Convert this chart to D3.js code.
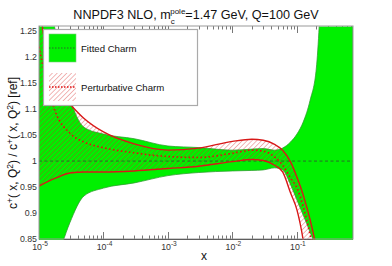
<!DOCTYPE html>
<meta charset="utf-8">
<style>
  html, body { margin: 0; padding: 0; background: #fff; overflow: hidden; }
  #chart { position: absolute; left: 0; top: 0; width: 392px; height: 266px; }
  svg { display: block; }
  text { font-family: "Liberation Sans", Arial, Helvetica, sans-serif; }
</style>
<script src="https://d3js.org/d3.v7.min.js"></script>
<div id="chart"></div>
<script>

// x grid (log)
var xVals  = [1e-5, 1.8e-5, 3e-5, 5e-5, 1e-4, 3e-4, 1e-3, 3e-3, 1e-2, 2e-2, 3e-2, 4.5e-2, 6e-2, 8e-2, 0.1, 0.125, 0.16, 0.2, 0.3, 0.74]

// fitted charm band (green)
var fitUp  = [1.40, 1.25, 1.123, 1.065, 1.052, 1.043, 1.029, 1.026, 1.021, 1.023, 1.024, 1.021, 1.025, 1.037, 1.052, 1.075, 1.117, 1.179, 1.6, 2.0]
var fitLo  = [0.70, 0.80, 0.881, 0.933, 0.948, 0.958, 0.972, 0.978, 0.981, 0.982, 0.983, 0.987, 0.983, 0.954, 0.925, 0.896, 0.863, 0.829, 0.70, 0.50]

// perturbative charm band (red hatched)
var pertUp = [1.30, 1.14, 1.11, 1.082, 1.056, 1.033, 1.021, 1.025, 1.038, 1.042, 1.040, 1.032, 1.021, 0.998, 0.969, 0.935, 0.887, 0.829, 0.6, 0.5]
var pertC  = [1.22, 1.094, 1.054, 1.0365, 1.0256, 1.016, 1.0087, 1.007, 1.015, 1.021, 1.019, 1.008, 0.992, 0.967, 0.948, 0.912, 0.858, 0.80, 0.6, 0.5]
var pertLo = [0.952, 0.967, 0.977, 0.979, 0.979, 0.981, 0.9856, 0.990, 0.999, 1.003, 1.001, 0.992, 0.979, 0.938, 0.906, 0.848, 0.75, 0.7, 0.55, 0.45]

var yTicks = [0.85, 0.9, 0.95, 1, 1.05, 1.1, 1.15, 1.2, 1.25]
var xDecades = [-5, -4, -3, -2, -1]
var legendNames = ["Fitted Charm", "Perturbative Charm"]

var w = 392, h = 266
var margin = {top: 26, right: 39, bottom: 27, left: 39},
    innerWidth = w - margin.left - margin.right,
    innerHeight = h - margin.top - margin.bottom

var svg = d3.select("#chart").append("svg")
  .attr("width", w).attr("height", h)

var defs = svg.append("defs")
defs.append("clipPath").attr("id", "clip")
  .append("rect").attr("x", 0).attr("y", 0.5)
  .attr("width", innerWidth).attr("height", innerHeight + 0.5)

var pat = defs.append("pattern").attr("id", "hatch")
  .attr("patternUnits", "userSpaceOnUse")
  .attr("width", 3.4).attr("height", 3.4)
  .attr("patternTransform", "rotate(45)")
pat.append("line").attr("x1", 0).attr("y1", 0).attr("x2", 0).attr("y2", 3.4)
  .attr("stroke", "#d42020").attr("stroke-width", 1.3).attr("stroke-opacity", 0.5)

var xScale = d3.scaleLog().domain([1e-5, 0.74]).range([0, innerWidth])
var yScale = d3.scaleLinear().domain([0.85, 1.26]).range([innerHeight, 0])

// runs of text with raised / lowered pieces, each one its own <text>
// runs: [string, fontSize, baselineShift, (optional) step back]
function richText(parent, x0, y0, runs, anchor, color) {
  var items = []
  var x = 0
  runs.forEach(function(r) {
    var t = parent.append("text").attr("y", y0 + r[2])
      .attr("font-size", r[1] + "px").attr("fill", color || "#111").text(r[0])
    var start = r[3] !== undefined ? x - r[3] : x
    var wd = t.node().getComputedTextLength()
    items.push([t, start])
    x = Math.max(x, start + wd)
  })
  var shift = anchor == "middle" ? -x / 2 : (anchor == "end" ? -x : 0)
  items.forEach(function(it) { it[0].attr("x", x0 + it[1] + shift) })
}

var g = svg.append("g").attr("transform", `translate(${margin.left},${margin.top})`)

// ticks (drawn under the bands)
var minor = []
xDecades.forEach(function(e) {
  for (var k = 1; k <= 9; k++) {
    var v = k * Math.pow(10, e)
    if (v <= 0.74) minor.push({v: v, major: k == 1})
  }
})
var ticks = g.append("g").attr("stroke", "#777").attr("stroke-width", 1)
ticks.selectAll(".tb").data(minor).enter().append("line")
  .attr("x1", d => Math.round(xScale(d.v)) + 0.5).attr("x2", d => Math.round(xScale(d.v)) + 0.5)
  .attr("y1", innerHeight).attr("y2", d => innerHeight - (d.major ? 7 : 3.5))
ticks.selectAll(".tt").data(minor).enter().append("line")
  .attr("x1", d => Math.round(xScale(d.v)) + 0.5).attr("x2", d => Math.round(xScale(d.v)) + 0.5)
  .attr("y1", 0).attr("y2", d => d.major ? 7 : 3.5)
ticks.selectAll(".tl").data(yTicks).enter().append("line")
  .attr("x1", 0).attr("x2", 7)
  .attr("y1", d => yScale(d)).attr("y2", d => yScale(d))

g.append("line").attr("x1", 0).attr("x2", innerWidth)
  .attr("y1", innerHeight + 0.5).attr("y2", innerHeight + 0.5)
  .attr("stroke", "#222").attr("stroke-width", 1.2)

// bands
var idx = d3.range(xVals.length)
var plot = g.append("g").attr("clip-path", "url(#clip)")

var area = function(lo, hi) {
  return d3.area().curve(d3.curveMonotoneX)
    .x(i => xScale(xVals[i])).y0(i => yScale(lo[i])).y1(i => yScale(hi[i]))(idx)
}
var line = function(arr) {
  return d3.line().curve(d3.curveMonotoneX)
    .x(i => xScale(xVals[i])).y(i => yScale(arr[i]))(idx)
}

plot.append("path").attr("d", area(fitLo, fitUp))
  .attr("fill", "#00f000").attr("stroke", "#30a030").attr("stroke-width", 0.8)

plot.append("path").attr("d", area(pertLo, pertUp)).attr("fill", "url(#hatch)")

plot.append("line").attr("x1", 0).attr("x2", innerWidth)
  .attr("y1", yScale(1)).attr("y2", yScale(1))
  .attr("stroke", "#2f5a2f").attr("stroke-width", 0.9).attr("stroke-dasharray", "3,2.5")

;[pertUp, pertLo].forEach(function(arr) {
  plot.append("path").attr("d", line(arr))
    .attr("fill", "none").attr("stroke", "#d81818").attr("stroke-width", 1.4)
})
plot.append("path").attr("d", line(pertC))
  .attr("fill", "none").attr("stroke", "#e01010").attr("stroke-width", 1.6)
  .attr("stroke-dasharray", "1.6,2.4")

// frame
g.append("rect").attr("x", 0).attr("y", 0).attr("width", innerWidth).attr("height", innerHeight)
  .attr("fill", "none").attr("stroke", "#999").attr("stroke-width", 1)

// legend
var lg = svg.append("g").attr("transform", "translate(43,29)")
lg.append("rect").attr("x", 0.5).attr("y", 0.5).attr("width", 154).attr("height", 76)
  .attr("fill", "#fff").attr("stroke", "#aaa").attr("stroke-width", 1.2)
lg.append("rect").attr("x", 6).attr("y", 5).attr("width", 27).attr("height", 28)
  .attr("fill", "#00f000").attr("stroke", "#7c7").attr("stroke-width", 0.6)
lg.append("line").attr("x1", 6).attr("x2", 33).attr("y1", 19).attr("y2", 19)
  .attr("stroke", "#2f5a2f").attr("stroke-width", 0.9).attr("stroke-dasharray", "1.5,1.5")
lg.append("rect").attr("x", 6).attr("y", 44).attr("width", 27).attr("height", 28)
  .attr("fill", "url(#hatch)")
lg.append("line").attr("x1", 6).attr("x2", 33).attr("y1", 58).attr("y2", 58)
  .attr("stroke", "#e01010").attr("stroke-width", 1.3).attr("stroke-dasharray", "1.5,1.5")
lg.selectAll(".lt").data(legendNames).enter().append("text")
  .attr("x", 38).attr("y", (d, i) => 22.5 + i * 39)
  .attr("font-size", "9.6px").attr("fill", "#111").text(d => d)

// y tick labels
svg.append("g").selectAll("text").data(yTicks).enter().append("text")
  .attr("x", margin.left - 2).attr("y", d => margin.top + yScale(d) + 3.2)
  .attr("text-anchor", "end").attr("font-size", "8.8px").attr("fill", "#333")
  .text(d => d3.format("")(d))

// x tick labels 10^e
var xl = svg.append("g")
xDecades.forEach(function(e) {
  richText(xl, margin.left + xScale(Math.pow(10, e)) + 1, 250,
           [["10", 8.8, 0], [String(e), 6.6, -4.5]], "middle", "#333")
})

// title
richText(svg.append("g"), 196, 18.5,
  [["NNPDF3 NLO, m", 12.6, 0], ["c", 8, 5], ["pole", 8, -5, 4.4], ["=1.47 GeV, Q=100 GeV", 12.6, 0]], "middle")

// axis labels
svg.append("text").attr("x", 204).attr("y", 260).attr("text-anchor", "middle")
  .attr("font-size", "12px").attr("fill", "#111").text("x")

var yg = svg.append("g").attr("transform", "translate(17,143) rotate(-90)")
richText(yg, 0, 0, [["c", 12, 0], ["+", 8.5, -4.5], [" ( x, Q", 12, 0], ["2", 8.5, -4.5], [") / c", 12, 0],
              ["+", 8.5, -4.5], [" ( x, Q", 12, 0], ["2", 8.5, -4.5], [") [ref]", 12, 0]], "middle")

</script>
